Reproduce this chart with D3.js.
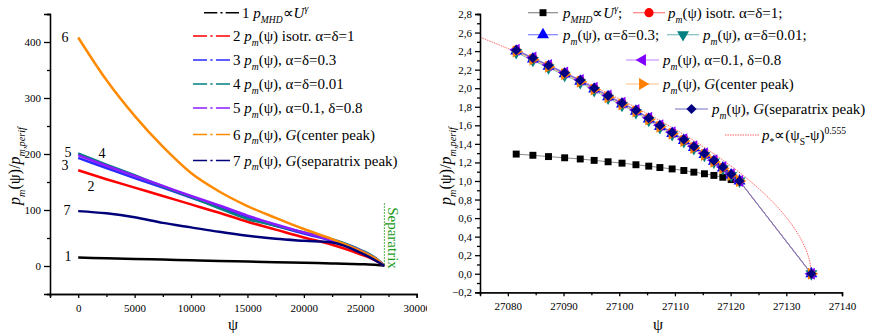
<!DOCTYPE html>
<html>
<head>
<meta charset="utf-8">
<script src="https://cdn.jsdelivr.net/npm/d3@7"></script>
<style>
  body { margin: 0; background: #fff; }
  svg text { font-family: "Liberation Serif", "Times New Roman", serif; }
</style>
</head>
<body>
<svg id="chart" width="873" height="333"></svg>
<script>
// ---------- Left panel: pressure profiles over the whole flux range ----------
const psiGrid = [0, 2500, 5000, 7500, 10000, 12500, 15000, 17500, 20000, 22500, 25000, 26500, 27130];
const profMHD   = [15, 13.8, 12.6, 11.4, 10.3, 9.1, 8, 6.9, 5.7, 4.5, 3.2, 2, 1];
const profIso   = [171, 155, 140, 125, 110, 95, 79, 65, 51, 38, 21, 8, 0];
const profA03   = [193, 175, 157, 140, 122, 105, 88, 72, 58, 45, 27, 11, 0];
const profA001  = [201, 181, 162, 142, 123, 103, 84, 72, 60, 48, 29, 12, 0];
const profA01   = [198, 179, 161, 143, 125, 108, 90, 74, 60, 46, 28, 11, 0];
const profGc    = [408, 332, 268, 213, 166, 133, 107, 86, 66, 48, 27, 11, 0];
const profGs    = [98, 94, 87, 77, 69, 61, 54, 48.5, 45, 42, 24, 8, 0];
const leftNames = ["1", "2", "3", "4", "5", "6", "7"];
const leftColors = ["#000000", "#ff0000", "#2b2bff", "#008080", "#8c1cff", "#ff8a00", "#00007a"];
const separatrixPsi = 27134;

// ---------- Right panel: close-up near the separatrix ----------
const psiNear = [27081.5, 27084.5, 27087.3, 27090.2, 27093.0, 27095.5, 27098.0, 27100.5, 27103.0, 27105.3,
                 27107.3, 27109.5, 27111.6, 27113.4, 27115.3, 27117.0, 27118.6, 27120.1, 27121.6, 27134.5];
const nearMHD  = [1.29, 1.277, 1.263, 1.25, 1.237, 1.222, 1.207, 1.192, 1.175, 1.16,
                  1.145, 1.13, 1.113, 1.095, 1.078, 1.06, 1.04, 1.015, 1.0];
const nearIso  = [2.41, 2.325, 2.245, 2.165, 2.085, 2.0, 1.918, 1.84, 1.762, 1.677,
                  1.598, 1.522, 1.446, 1.37, 1.294, 1.22, 1.148, 1.072, 1.0, 0];
const nearA03  = [2.40, 2.315, 2.235, 2.155, 2.075, 1.99, 1.908, 1.83, 1.752, 1.667,
                  1.588, 1.512, 1.436, 1.36, 1.285, 1.212, 1.14, 1.066, 1.0, 0];
const nearA001 = [2.385, 2.30, 2.22, 2.14, 2.06, 1.975, 1.893, 1.815, 1.738, 1.653,
                  1.575, 1.5, 1.425, 1.35, 1.276, 1.204, 1.133, 1.06, 1.0, 0];
const nearA01  = [2.415, 2.33, 2.25, 2.17, 2.09, 2.005, 1.922, 1.844, 1.766, 1.681,
                  1.602, 1.526, 1.45, 1.374, 1.298, 1.223, 1.151, 1.074, 1.0, 0];
const nearGc   = [2.395, 2.31, 2.23, 2.15, 2.07, 1.985, 1.903, 1.825, 1.748, 1.663,
                  1.584, 1.508, 1.432, 1.356, 1.281, 1.208, 1.137, 1.063, 1.0, 0];
const nearGs   = [2.41, 2.325, 2.245, 2.165, 2.085, 2.0, 1.918, 1.84, 1.762, 1.677,
                  1.598, 1.522, 1.446, 1.37, 1.294, 1.22, 1.148, 1.072, 1.0, 0];
// fit p* ∝ (ψS − ψ)^0.555
const fitPsiS = 27134.5, fitExp = 0.555, fitCoef = 0.264;

const yTicksLeft = [0, 100, 200, 300, 400];
const xTicksLeft = [0, 5000, 10000, 15000, 20000, 25000, 30000];
const xTicksRight = [27080, 27090, 27100, 27110, 27120, 27130, 27140];
const yTicksRight = [-0.2, 0, 0.2, 0.4, 0.6, 0.8, 1.0, 1.2, 1.4, 1.6, 1.8, 2.0, 2.2, 2.4, 2.6, 2.8];

const SERIF = "'Liberation Serif', 'Times New Roman', serif";
const svg = d3.select("#chart");

// rich text: segments [text, flags] where flags may contain i (italic), b (subscript), p (superscript)
function rich(parent, x, y, size, segs, attrs) {
  const t = parent.append("text").attr("x", x).attr("y", y).attr("font-size", size);
  if (attrs) Object.entries(attrs).forEach(([k, v]) => t.attr(k, v));
  let shift = 0;
  segs.forEach(([s, f]) => {
    const ts = t.append("tspan").text(s);
    let target = 0, fs = size;
    if (f.includes("b")) { target = size * 0.32; fs = size * 0.64; }
    if (f.includes("p")) { target = -size * 0.4; fs = size * 0.64; }
    ts.attr("font-size", fs);
    if (f.includes("i")) ts.attr("font-style", "italic");
    if (target !== shift) { ts.attr("dy", target - shift); shift = target; }
  });
  return t;
}
const pm = [["p", "i"], ["m", "ib"], ["(ψ)", ""]];

// ================= LEFT PANEL =================
const L = { x0: 50, x1: 416.7, y0: 14, y1: 294 };
const xL = d3.scaleLinear().domain([-2500, 30000]).range([L.x0, L.x1]);
const yL = d3.scaleLinear().domain([-50, 450]).range([L.y1, L.y0]);

const defs = svg.append("defs");
defs.append("clipPath").attr("id", "leftClip")
  .append("rect").attr("x", 0).attr("y", 0).attr("width", 427).attr("height", 333);
const gL = svg.append("g").attr("clip-path", "url(#leftClip)");

const lineL = d3.line().x((d, i) => xL(psiGrid[i])).y(d => yL(d)).curve(d3.curveMonotoneX);
const leftSeries = [profMHD, profIso, profA03, profA001, profA01, profGc, profGs];
[0, 1, 2, 3, 4, 5, 6].forEach(k => {
  gL.append("path").datum(leftSeries[k]).attr("d", lineL)
    .attr("fill", "none").attr("stroke", leftColors[k]).attr("stroke-width", 2.5);
});

// separatrix marker
gL.append("line").attr("x1", xL(separatrixPsi)).attr("x2", xL(separatrixPsi))
  .attr("y1", yL(112)).attr("y2", yL(0))
  .attr("stroke", "#1a9a1a").attr("stroke-width", 1).attr("stroke-dasharray", "1.5,1.5");
gL.append("text").attr("transform", `translate(${xL(separatrixPsi) + 4},${yL(50)}) rotate(90)`)
  .attr("text-anchor", "middle").attr("font-size", 15).attr("fill", "#1a9a1a").text("Separatrix");

// curve numbers
const numPos = [[68, 261, "1"], [91, 191, "2"], [65, 170, "3"], [102, 158, "4"], [68, 157, "5"], [65, 42, "6"], [67, 215, "7"]];
numPos.forEach(([x, y, s]) => gL.append("text").attr("x", x).attr("y", y).attr("font-size", 14)
  .attr("text-anchor", "middle").text(s));

// axes
gL.append("g").attr("transform", `translate(0,${L.y1})`)
  .call(d3.axisBottom(xL).tickValues(xTicksLeft).tickSize(4).tickPadding(6).tickFormat(d3.format("d")));
gL.append("g").attr("transform", `translate(0,${L.y1})`)
  .call(d3.axisBottom(xL).tickValues(d3.range(-2500, 30000, 5000)).tickSize(3).tickFormat(""));
gL.append("g").attr("transform", `translate(${L.x0},0)`)
  .call(d3.axisLeft(yL).tickValues(yTicksLeft).tickSize(6).tickPadding(3));
gL.append("g").attr("transform", `translate(${L.x0},0)`)
  .call(d3.axisLeft(yL).tickValues(d3.range(-50, 451, 100)).tickSize(3).tickFormat(""));

// axis titles
rich(gL, 0, 0, 16, [["p", "i"], ["m", "ib"], ["(ψ)/", ""], ["p", "i"], ["m,perif", "ib"]],
  { transform: "translate(20,166) rotate(-90)", "text-anchor": "middle" });
gL.append("text").attr("x", 233).attr("y", 330).attr("font-size", 16).attr("text-anchor", "middle").text("ψ");

// legend
const legL = [
  { y: 12.7, x0: 204, x1: 239, segs: [["1 ", ""], ["p", "i"], ["MHD", "ib"], ["∝", ""], ["U", "i"], ["γ", "ip"]] },
  { y: 36, x0: 193, x1: 230, segs: [["2 ", ""], ...pm, [" isotr. α=δ=1", ""]] },
  { y: 60, x0: 193, x1: 230, segs: [["3 ", ""], ...pm, [", α=δ=0.3", ""]] },
  { y: 84, x0: 193, x1: 230, segs: [["4 ", ""], ...pm, [", α=δ=0.01", ""]] },
  { y: 108, x0: 193, x1: 230, segs: [["5 ", ""], ...pm, [", α=0.1, δ=0.8", ""]] },
  { y: 134.5, x0: 193, x1: 230, segs: [["6 ", ""], ...pm, [", ", ""], ["G", "i"], ["(center peak)", ""]] },
  { y: 160.5, x0: 193, x1: 230, segs: [["7 ", ""], ...pm, [", ", ""], ["G", "i"], ["(separatrix peak)", ""]] }
];
legL.forEach((r, k) => {
  const w = r.x1 - r.x0;
  gL.append("line").attr("x1", r.x0).attr("x2", r.x1).attr("y1", r.y).attr("y2", r.y)
    .attr("stroke", leftColors[k]).attr("stroke-width", 1.6)
    .attr("stroke-dasharray", `${w * 0.38},${w * 0.09},${w * 0.06},${w * 0.09},${w}`);
  rich(gL, r.x1 + 3, r.y + 5, 15, r.segs);
});

gL.selectAll(".domain, .tick line").attr("stroke", "#000").attr("stroke-width", 1.3);
gL.selectAll(".tick text").attr("font-size", 11);

// ================= RIGHT PANEL =================
const R = { x0: 480, x1: 842, y0: 14, y1: 292.3 };
const xR = d3.scaleLinear().domain([27075, 27140]).range([R.x0, R.x1]);
const yR = d3.scaleLinear().domain([-0.2, 2.8]).range([R.y1, R.y0]);
const gR = svg.append("g");
defs.append("clipPath").attr("id", "rightClip")
  .append("rect").attr("x", R.x0).attr("y", 0).attr("width", R.x1 - R.x0 + 20).attr("height", R.y1);

// fit curve
const fitPsi = d3.range(27075, fitPsiS, 0.25).concat([fitPsiS]);
gR.append("path").attr("clip-path", "url(#rightClip)")
  .datum(fitPsi)
  .attr("d", d3.line().x(d => xR(d)).y(d => yR(fitCoef * Math.pow(fitPsiS - d, fitExp))))
  .attr("fill", "none").attr("stroke", "#ff5050").attr("stroke-width", 0.9).attr("stroke-dasharray", "1.5,1");

const sym = {
  square: d3.symbol().type(d3.symbolSquare).size(48),
  circle: d3.symbol().type(d3.symbolCircle).size(66),
  up: d3.symbol().type(d3.symbolTriangle).size(62),
  diamond: d3.symbol().type(d3.symbolSquare).size(52)
};
const rightSeries = [
  { vals: nearMHD,  color: "#000000", line: "#8a8a8a", shape: "square", rot: 0 },
  { vals: nearIso,  color: "#ff0000", line: "#ff8080", shape: "circle", rot: 0 },
  { vals: nearA03,  color: "#0000ff", line: "#8080ff", shape: "up", rot: 0 },
  { vals: nearA001, color: "#008080", line: "#80c0c0", shape: "up", rot: 180 },
  { vals: nearA01,  color: "#8000ff", line: "#c080ff", shape: "up", rot: -90 },
  { vals: nearGc,   color: "#ff8000", line: "#ffc080", shape: "up", rot: 90 },
  { vals: nearGs,   color: "#000080", line: "#7070c0", shape: "diamond", rot: 45 }
];
rightSeries.forEach(s => {
  const pts = s.vals.map((v, i) => [psiNear[i], v]);
  gR.append("path").datum(pts)
    .attr("d", d3.line().x(d => xR(d[0])).y(d => yR(d[1])))
    .attr("fill", "none").attr("stroke", s.line).attr("stroke-width", 1);
});
rightSeries.forEach(s => {
  const pts = s.vals.map((v, i) => [psiNear[i], v]);
  gR.selectAll(null).data(pts).join("path")
    .attr("transform", d => `translate(${xR(d[0])},${yR(d[1])}) rotate(${s.rot})`)
    .attr("d", sym[s.shape]()).attr("fill", s.color);
});

// axes
const commaFmt = d => d3.format(".1f")(d).replace(".", ",");
gR.append("g").attr("transform", `translate(0,${R.y1})`)
  .call(d3.axisBottom(xR).tickValues(xTicksRight).tickSize(4).tickPadding(6).tickFormat(d3.format("d")));
gR.append("g").attr("transform", `translate(0,${R.y1})`)
  .call(d3.axisBottom(xR).tickValues(d3.range(27075, 27140, 10)).tickSize(3).tickFormat(""));
gR.append("g").attr("transform", `translate(${R.x0},0)`)
  .call(d3.axisLeft(yR).tickValues(yTicksRight).tickSize(5).tickPadding(3).tickFormat(commaFmt));
gR.append("g").attr("transform", `translate(${R.x0},0)`)
  .call(d3.axisLeft(yR).tickValues(d3.range(-0.1, 2.75, 0.2)).tickSize(3).tickFormat(""));
gR.selectAll(".domain, .tick line").attr("stroke", "#000").attr("stroke-width", 1.3);
gR.selectAll(".tick text").attr("font-size", 11);

rich(gR, 0, 0, 16, [["p", "i"], ["m", "ib"], ["(ψ)/", ""], ["p", "i"], ["m,perif", "ib"]],
  { transform: "translate(451,166) rotate(-90)", "text-anchor": "middle" });
gR.append("text").attr("x", 658).attr("y", 330).attr("font-size", 16).attr("text-anchor", "middle").text("ψ");

// legend
function legSample(x0, x1, y, k) {
  const s = rightSeries[k];
  gR.append("line").attr("x1", x0).attr("x2", x1).attr("y1", y).attr("y2", y)
    .attr("stroke", s.line).attr("stroke-width", 1.2);
  gR.append("path").attr("transform", `translate(${(x0 + x1) / 2},${y}) rotate(${s.rot})`)
    .attr("d", sym[s.shape]()).attr("fill", s.color);
}
legSample(528, 558, 12.7, 0);
rich(gR, 563, 17.7, 15, [["p", "i"], ["MHD", "ib"], ["∝", ""], ["U", "i"], ["γ", "ip"], [";", ""]]);
legSample(633, 665, 12.7, 1);
rich(gR, 668, 17.7, 15, [...pm, [" isotr. α=δ=1;", ""]]);
legSample(528, 558, 34.7, 2);
rich(gR, 563, 39.7, 15, [...pm, [", α=δ=0.3;", ""]]);
legSample(667, 699, 34.7, 3);
rich(gR, 703, 39.7, 15, [...pm, [", α=δ=0.01;", ""]]);
legSample(626, 659, 60, 4);
rich(gR, 663, 65, 15, [...pm, [", α=0.1, δ=0.8", ""]]);
legSample(626, 659, 84, 5);
rich(gR, 663, 89, 15, [...pm, [", ", ""], ["G", "i"], ["(center peak)", ""]]);
legSample(675, 708, 109, 6);
rich(gR, 712, 114, 15, [...pm, [", ", ""], ["G", "i"], ["(separatrix peak)", ""]]);
gR.append("line").attr("x1", 725).attr("x2", 760).attr("y1", 135).attr("y2", 135)
  .attr("stroke", "#ff5050").attr("stroke-width", 0.9).attr("stroke-dasharray", "1.5,1");
rich(gR, 762, 140, 15, [["p", "i"], ["*", "b"], ["∝(ψ", ""], ["S", "b"], ["-ψ)", ""], ["0.555", "p"]]);

// serif typeface everywhere, overriding the axis default
svg.selectAll("text").style("font-family", SERIF);
svg.selectAll("g").attr("font-family", null);
</script>
</body>
</html>
